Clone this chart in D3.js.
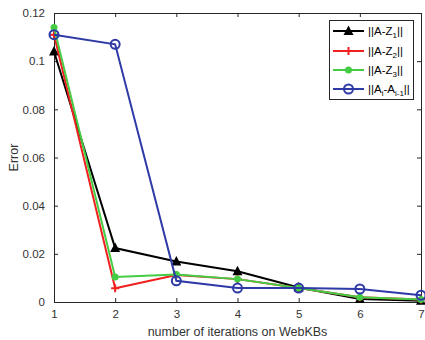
<!DOCTYPE html>
<html lang="en">
<head>
    <meta charset="UTF-8">
    <style>
        body { margin: 0; background: #fff; }
        text { font-family: "Liberation Sans", Arial, sans-serif; fill: #333; }
        .axis text { font-size: 11.5px; }
        .axis path, .axis line { stroke: #262626; }
    </style>
    <script src="https://d3js.org/d3.v7.min.js"></script>
    <title>Error vs iterations</title>
</head>
<body>
    <svg width="425" height="340"></svg>
    <script>

        // data
        var iterations = [1, 2, 3, 4, 5, 6, 7];
        var errZ1 = [0.104, 0.0224, 0.0168, 0.0128, 0.0060, 0.0012, 0.0005];
        var errZ2 = [0.111, 0.0057, 0.0112, 0.0095, 0.0058, 0.0020, 0.0010];
        var errZ3 = [0.114, 0.0104, 0.0114, 0.0095, 0.0058, 0.0020, 0.0010];
        var errA  = [0.111, 0.107, 0.0088, 0.0058, 0.0058, 0.0054, 0.0028];
        var yTicks = [0, 0.02, 0.04, 0.06, 0.08, 0.1, 0.12];

        var svg = d3.select("svg"),
            plotL = 54, plotR = 421, plotT = 13, plotB = 302;

        var x = d3.scaleLinear().domain([1, 7]).range([plotL, plotR]);
        var y = d3.scaleLinear().domain([0, 0.12]).range([plotB, plotT]);

        // axes, ticks pointing inward as in matlab
        svg.append("g").attr("class", "axis")
           .attr("transform", "translate(0," + plotB + ")")
           .call(d3.axisBottom(x).tickValues(iterations).tickSize(-4).tickPadding(8).tickFormat(d3.format("d")));
        svg.append("g").attr("class", "axis")
           .attr("transform", "translate(" + plotL + ",0)")
           .call(d3.axisLeft(y).tickValues(yTicks).tickSize(-4).tickPadding(9).tickFormat(function(d) { return String(+d.toFixed(2)); }));
        svg.append("g").attr("class", "axis")
           .attr("transform", "translate(0," + plotT + ")")
           .call(d3.axisTop(x).tickValues(iterations).tickSize(-4).tickFormat(""));
        svg.append("g").attr("class", "axis")
           .attr("transform", "translate(" + plotR + ",0)")
           .call(d3.axisRight(y).tickValues(yTicks).tickSize(-4).tickFormat(""));
        svg.selectAll(".axis path").attr("stroke-width", 1);

        svg.append("text")
           .attr("x", (plotL + plotR) / 2).attr("y", 336)
           .attr("text-anchor", "middle").style("font-size", "12.5px")
           .text("number of iterations on WebKBs");
        svg.append("text")
           .attr("transform", "translate(18," + (plotT + plotB) / 2 + ") rotate(-90)")
           .attr("text-anchor", "middle").style("font-size", "12.5px")
           .text("Error");

        var series = [
            { values: errZ1, color: "#000000", marker: "triangle" },
            { values: errZ2, color: "#f02020", marker: "plus" },
            { values: errZ3, color: "#44cc44", marker: "dot" },
            { values: errA,  color: "#2e3aa6", marker: "circle" }
        ];

        var line = d3.line()
            .x(function(d, i) { return x(iterations[i]); })
            .y(function(d) { return y(d); });

        function drawMarker(g, type, color) {
            if (type === "triangle") {
                g.append("path").attr("d", "M0,-5.5L5,4L-5,4Z").attr("fill", color);
            } else if (type === "plus") {
                g.append("path").attr("d", "M-4,0H4M0,-4V4").attr("stroke", color).attr("stroke-width", 2);
            } else if (type === "dot") {
                g.append("circle").attr("r", 3.5).attr("fill", color);
            } else {
                g.append("circle").attr("r", 4.5).attr("fill", "none").attr("stroke", color).attr("stroke-width", 2);
            }
        }

        series.forEach(function(s) {
            svg.append("path")
               .datum(s.values)
               .attr("d", line)
               .attr("fill", "none")
               .attr("stroke", s.color)
               .attr("stroke-width", 2);
            s.values.forEach(function(v, i) {
                var g = svg.append("g").attr("transform", "translate(" + x(iterations[i]) + "," + y(v) + ")");
                drawMarker(g, s.marker, s.color);
            });
        });

        // legend
        var legend = svg.append("g");
        legend.append("rect")
              .attr("x", 329.5).attr("y", 20.5).attr("width", 84).attr("height", 79)
              .attr("fill", "#fff").attr("stroke", "#262626").attr("stroke-width", 1);

        var labels = [["||A-Z", "1", "||"], ["||A-Z", "2", "||"], ["||A-Z", "3", "||"], null];
        var rows = [31, 51, 70, 89];

        series.forEach(function(s, i) {
            var yy = rows[i];
            legend.append("line")
                  .attr("x1", 333).attr("x2", 364).attr("y1", yy).attr("y2", yy)
                  .attr("stroke", s.color).attr("stroke-width", 2);
            drawMarker(legend.append("g").attr("transform", "translate(348.5," + yy + ")"), s.marker, s.color);
            var t = legend.append("text").attr("x", 368).attr("y", yy + 4).style("font-size", "11.5px").style("fill", "#000");
            if (labels[i]) {
                t.append("tspan").text(labels[i][0]);
                t.append("tspan").attr("dy", 3).style("font-size", "8px").text(labels[i][1]);
                t.append("tspan").attr("dy", -3).text(labels[i][2]);
            } else {
                t.append("tspan").text("||A");
                t.append("tspan").attr("dy", 3).style("font-size", "8px").text("i");
                t.append("tspan").attr("dy", -3).text("-A");
                t.append("tspan").attr("dy", 3).style("font-size", "8px").text("i-1");
                t.append("tspan").attr("dy", -3).text("||");
            }
        });

    </script>
</body>
</html>
